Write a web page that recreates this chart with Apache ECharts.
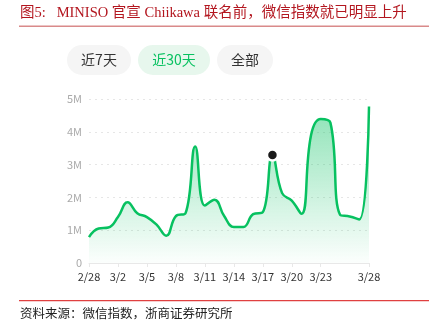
<!DOCTYPE html>
<html><head><meta charset="utf-8">
<script src="https://cdn.jsdelivr.net/npm/echarts@6/dist/echarts.min.js"></script>
<style>html,body{margin:0;padding:0;background:#fff}#c{width:438px;height:327px}</style>
</head><body><div id="c"></div>
<script>
const titleText = '图5:   MINISO 官宣 Chiikawa 联名前，微信指数就已明显上升';
const sourceText = '资料来源：微信指数，浙商证券研究所';
const tabs = ['近7天', '近30天', '全部'];
const dates = ['2/28','2/29','3/1','3/2','3/3','3/4','3/5','3/6','3/7','3/8','3/9','3/10','3/11','3/12','3/13','3/14','3/15','3/16','3/17','3/18','3/19','3/20','3/21','3/22','3/23','3/24','3/25','3/26','3/27','3/28'];
// WeChat index, millions
const values = [0.79,1.05,1.08,1.40,1.85,1.52,1.40,1.17,0.83,1.43,1.52,3.55,1.75,1.93,1.43,1.10,1.10,1.49,1.55,3.29,2.13,1.90,1.50,3.90,4.39,4.28,1.47,1.42,1.33,4.77];
const highlightDate = '3/18';
const yTicks = [0,1,2,3,4,5];

const chart = echarts.init(document.getElementById('c'), null, {renderer:'canvas'});
const hiIdx = dates.indexOf(highlightDate);
const showLabel = (i) => (i % 3 === 0 && i !== 27) || i === dates.length - 1;
const green = '#07c160';
const cjk = "'Noto Sans CJK SC', 'Noto Sans', sans-serif";
const serif = "'Liberation Serif', 'Noto Sans CJK SC', serif";

function pill(x, w, text, active) {
  return {
    type: 'group',
    children: [
      {type:'rect', shape:{x:x, y:45, width:w, height:30, r:15}, style:{fill: active ? '#e7f7ed' : '#f5f5f5'}},
      {type:'text', x: x + w/2, y: 60, style:{text:text, fill: active ? green : '#333', font: '14px ' + cjk, textAlign:'center', textVerticalAlign:'middle'}}
    ]
  };
}

chart.setOption({
  animation: false,
  grid: {left: 89, right: 69, top: 99, bottom: 64},
  xAxis: {
    type: 'category', data: dates, boundaryGap: false,
    axisLine: {lineStyle: {color: '#e8e8e8'}},
    axisTick: {show: true, interval: (i) => showLabel(i), length: 4, lineStyle: {color: '#e8e8e8'}},
    axisLabel: {interval: (i) => showLabel(i), color: '#333', fontSize: 11, margin: 8, fontFamily: cjk}
  },
  yAxis: {
    type: 'value', min: yTicks[0], max: yTicks[yTicks.length - 1], interval: 1,
    axisLine: {show: false}, axisTick: {show: false},
    axisLabel: {formatter: (v) => v === 0 ? '0' : v + 'M', color: '#aaa', fontSize: 11, margin: 7, fontFamily: cjk},
    splitLine: {lineStyle: {color: '#e6e6e6', type: [2, 4]}}
  },
  series: [{
    type: 'line', data: values, smooth: 0.45, showSymbol: false,
    lineStyle: {color: green, width: 2.5},
    areaStyle: {color: new echarts.graphic.LinearGradient(0,0,0,1,[
      {offset:0, color:'rgba(7,193,96,0.65)'},
      {offset:1, color:'rgba(7,193,96,0.02)'}
    ])},
    markPoint: {
      symbol: 'circle', symbolSize: 11,
      itemStyle: {color: '#1a1a1a', borderColor: '#fff', borderWidth: 2.5},
      label: {show: false},
      data: [{coord: [highlightDate, values[hiIdx]]}]
    }
  }],
  graphic: [
    {type:'text', x: 20, y: 13, style:{text: titleText, fill:'#b3161f', font: '14.5px ' + serif, textVerticalAlign:'middle'}},
    {type:'rect', shape:{x:19, y:25.5, width:410, height:1.5}, style:{fill:'#d98a8a'}},
    pill(67, 64, tabs[0], false),
    pill(138, 72, tabs[1], true),
    pill(217, 56, tabs[2], false),
    {type:'rect', shape:{x:19, y:300, width:410, height:1.2}, style:{fill:'#e04040'}},
    {type:'text', x: 20, y: 315, style:{text: sourceText, fill:'#222', font: '12.5px ' + serif, textVerticalAlign:'middle'}}
  ]
});
</script></body></html>
